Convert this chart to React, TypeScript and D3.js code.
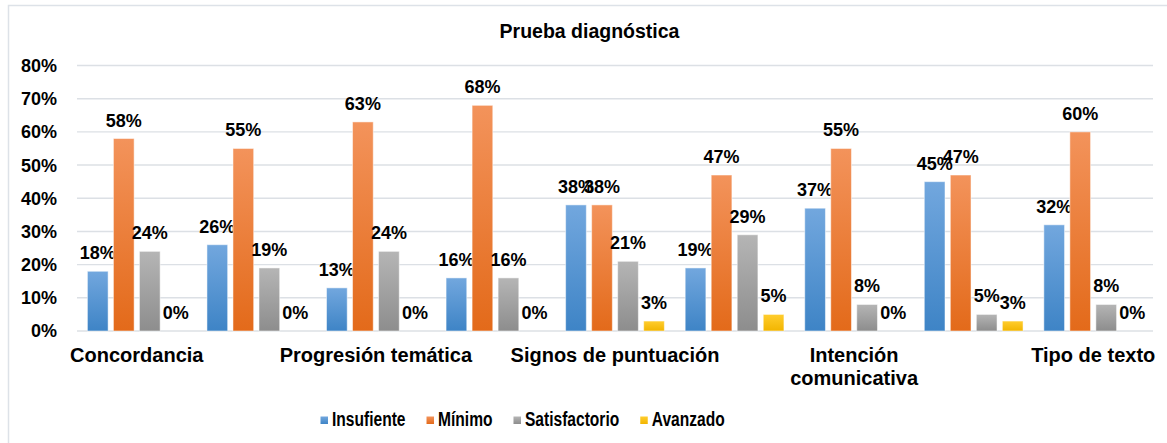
import * as d3 from "d3";
import { useEffect, useRef } from "react";

// values (percent)
const categories = [
  "Concordancia",
  "",
  "Progresión temática",
  "",
  "Signos de puntuación",
  "",
  "Intención comunicativa",
  "",
  "Tipo de texto",
];
const seriesNames = ["Insufiente", "Mínimo", "Satisfactorio", "Avanzado"];
const insufiente = [18, 26, 13, 16, 38, 19, 37, 45, 32];
const minimo = [58, 55, 63, 68, 38, 47, 55, 47, 60];
const satisfactorio = [24, 19, 24, 16, 21, 29, 8, 5, 8];
const avanzado = [0, 0, 0, 0, 3, 5, 0, 3, 0];
const yTicks = [0, 10, 20, 30, 40, 50, 60, 70, 80];

const gradients = [
  ["#72a7de", "#3e84c6"],
  ["#f3935b", "#e36a1a"],
  ["#b5b5b5", "#8d8d8d"],
  ["#ffcd2e", "#f2b500"],
];

const W = 1167;
const H = 443;
const FONT = "'Liberation Sans', Arial, sans-serif";

const App = () => {
  const svgRef = useRef<SVGSVGElement>(null);

  useEffect(() => {
    const svg = d3.select(svgRef.current);
    svg.selectAll("*").remove();
    const values = [insufiente, minimo, satisfactorio, avanzado];

    const defs = svg.append("defs");
    gradients.forEach((g, i) => {
      const lg = defs
        .append("linearGradient")
        .attr("id", "grad" + i)
        .attr("x1", 0)
        .attr("y1", 0)
        .attr("x2", 0)
        .attr("y2", 1);
      lg.append("stop").attr("offset", "0%").attr("stop-color", g[0]);
      lg.append("stop").attr("offset", "100%").attr("stop-color", g[1]);
    });

    svg.append("rect").attr("width", W).attr("height", H).attr("fill", "#fff");
    // chart frame (runs off the picture on the right and bottom)
    svg
      .append("rect")
      .attr("x", 8.5)
      .attr("y", 5.5)
      .attr("width", 1200)
      .attr("height", 500)
      .attr("fill", "none")
      .attr("stroke", "#dde2e8")
      .attr("stroke-width", 1.5);

    const x = d3.scaleBand<number>().domain(d3.range(categories.length)).range([77, 1153]);
    const xs = d3
      .scaleBand<number>()
      .domain(d3.range(seriesNames.length))
      .range([10.4, x.bandwidth() - 10.4])
      .paddingInner(0.204);
    const y = d3.scaleLinear().domain([0, 80]).range([331, 65.5]);

    // grid
    svg
      .append("g")
      .selectAll("line")
      .data(yTicks)
      .join("line")
      .attr("x1", 77)
      .attr("x2", 1153)
      .attr("y1", (d) => y(d))
      .attr("y2", (d) => y(d))
      .attr("stroke", "#dce0e5")
      .attr("stroke-width", 1.4);

    // y tick labels
    svg
      .append("g")
      .selectAll("text")
      .data(yTicks)
      .join("text")
      .attr("x", 57)
      .attr("y", (d) => y(d))
      .attr("dy", "0.36em")
      .attr("text-anchor", "end")
      .style("font", `bold 18px ${FONT}`)
      .attr("fill", "#000")
      .text((d) => d + "%");

    // bars
    values.forEach((vals, s) => {
      const g = svg.append("g");
      g.selectAll("rect")
        .data(vals)
        .join("rect")
        .attr("x", (d, i) => x(i)! + xs(s)!)
        .attr("y", (d) => y(d))
        .attr("width", xs.bandwidth())
        .attr("height", (d) => y(0) - y(d))
        .attr("fill", `url(#grad${s})`)
        .attr("stroke", "#ffffff")
        .attr("stroke-opacity", 0.5)
        .attr("stroke-width", 1);
      g.selectAll("text")
        .data(vals)
        .join("text")
        .attr("x", (d, i) => x(i)! + xs(s)! + xs.bandwidth() / 2)
        .attr("y", (d) => y(d) - 12)
        .attr("text-anchor", "middle")
        .style("font", `bold 18px ${FONT}`)
        .attr("fill", "#000")
        .text((d) => d + "%");
    });

    // category labels, wrapped like Excel does
    const cat = svg.append("g");
    categories.forEach((c, i) => {
      if (!c) return;
      const cx = x(i)! + x.bandwidth() / 2;
      const t = cat
        .append("text")
        .attr("x", cx)
        .attr("y", 362)
        .attr("text-anchor", "middle")
        .style("font", `bold 20px ${FONT}`)
        .attr("fill", "#000")
        .text(c);
      const node = t.node() as SVGTextElement;
      if (node.getComputedTextLength() > 215) {
        const words = c.split(" ");
        t.text(null);
        words.forEach((w, k) => {
          t.append("tspan")
            .attr("x", cx)
            .attr("dy", k === 0 ? 0 : 22.5)
            .text(w);
        });
      }
    });

    // title
    svg
      .append("text")
      .attr("x", 589.5)
      .attr("y", 37.5)
      .attr("text-anchor", "middle")
      .style("font", `bold 19.5px ${FONT}`)
      .attr("fill", "#000")
      .text("Prueba diagnóstica");

    // legend (narrow text as in the reference)
    const leg = svg.append("g");
    const squeeze = 0.76;
    let lx = 320.5;
    seriesNames.forEach((n, i) => {
      leg
        .append("rect")
        .attr("x", lx)
        .attr("y", 416.5)
        .attr("width", 7.5)
        .attr("height", 7.5)
        .attr("fill", `url(#grad${i})`);
      const t = leg
        .append("text")
        .attr("transform", `translate(${lx + 11.5},425.5) scale(${squeeze},1)`)
        .style("font", `bold 20.5px ${FONT}`)
        .attr("fill", "#000")
        .text(n);
      lx += 11.5 + (t.node() as SVGTextElement).getComputedTextLength() * squeeze + 21;
    });
  }, []);

  return (
    <svg
      ref={svgRef}
      width={W}
      height={H}
      style={{ position: "absolute", left: 0, top: 0, display: "block" }}
    ></svg>
  );
};

export default App;
